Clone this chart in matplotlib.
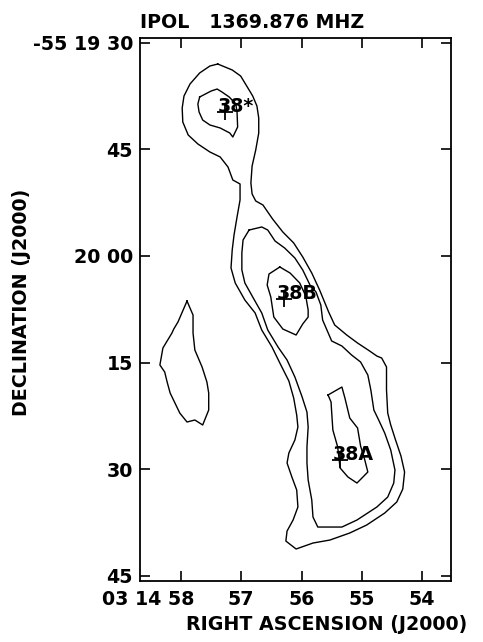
import matplotlib
matplotlib.use("Agg")
import matplotlib.pyplot as plt
import matplotlib.transforms as mtransforms

# RA in seconds of 03h14m, Dec in arcsec relative to -55d20m00s (north positive)
outer_ra = [57.39, 57.15, 57.01, 56.91, 56.81, 56.74, 56.71, 56.71, 56.76, 56.82,
            56.84, 56.82, 56.76, 56.64, 56.48, 56.31, 56.13, 55.98, 55.83, 55.70,
            55.55, 55.45, 55.25, 55.07, 54.87, 54.75, 54.67, 54.59, 54.59, 54.57,
            54.52, 54.44, 54.35, 54.29, 54.32, 54.42, 54.62, 54.92, 55.20, 55.53,
            55.81, 56.09, 56.26, 56.24, 56.14, 56.06, 56.08, 56.16, 56.24, 56.21,
            56.11, 56.06, 56.08, 56.13, 56.21, 56.36, 56.49, 56.66, 56.77, 56.94,
            57.10, 57.17, 57.15, 57.12, 57.07, 57.02, 57.02, 57.14, 57.22, 57.35,
            57.52, 57.72, 57.88, 57.97, 57.98, 57.95, 57.85, 57.69, 57.52]
outer_dec = [27.00, 26.16, 25.31, 23.91, 22.50, 21.09, 19.40, 17.29, 14.90, 12.65,
             10.26, 8.71, 7.73, 7.16, 5.19, 3.36, 1.82, -0.15, -2.41, -4.80,
             -7.89, -9.72, -11.13, -12.26, -13.38, -14.09, -14.37, -15.63, -18.87, -22.11,
             -23.79, -25.90, -28.16, -30.41, -32.80, -34.63, -36.18, -37.87, -38.99, -39.98,
             -40.40, -41.24, -40.12, -38.71, -37.16, -35.33, -32.94, -31.11, -29.14, -27.73,
             -25.90, -24.08, -22.39, -20.00, -17.60, -15.07, -12.82, -10.43, -8.03, -6.21,
             -3.81, -1.70, 0.83, 2.94, 5.47, 7.87, 10.12, 10.68, 12.51, 13.92,
             14.62, 15.75, 17.01, 18.84, 20.81, 22.50, 24.19, 25.74, 26.72]

body_ra = [56.87, 56.66, 56.56, 56.44, 56.28, 56.11, 55.98, 55.86, 55.76, 55.68,
           55.65, 55.50, 55.33, 55.17, 55.02, 54.90, 54.85, 54.80, 54.72, 54.62,
           54.52, 54.45, 54.47, 54.57, 54.75, 55.08, 55.33, 55.73, 55.81, 55.83,
           55.89, 55.91, 55.91, 55.89, 55.91, 55.99, 56.11, 56.24, 56.39, 56.56,
           56.66, 56.81, 56.94, 56.99, 56.99, 56.97]
body_dec = [3.64, 4.07, 3.64, 2.10, 1.11, -0.30, -1.98, -4.09, -5.08, -6.91,
            -9.02, -11.97, -12.68, -13.94, -14.93, -16.76, -18.87, -21.68, -23.09, -24.92,
            -27.31, -30.13, -31.96, -33.93, -35.33, -37.16, -38.15, -38.15, -36.74, -34.35,
            -31.53, -29.14, -26.89, -24.08, -21.97, -19.85, -17.04, -14.65, -12.82, -10.43,
            -8.03, -5.78, -3.81, -1.98, 0.41, 2.24]

b_ra = [56.36, 56.19, 56.03, 55.93, 55.89, 55.89, 55.98, 56.09, 56.31, 56.46,
        56.51, 56.57, 56.54]
b_dec = [-1.56, -2.41, -3.81, -5.64, -7.61, -8.60, -9.58, -11.13, -10.29, -8.60,
         -5.78, -4.09, -2.55]

a_ra = [55.56, 55.33, 55.28, 55.20, 55.07, 55.02, 54.95, 54.90, 55.08, 55.23,
        55.36, 55.40, 55.48, 55.50, 55.51]
a_dec = [-19.57, -18.45, -20.00, -22.81, -24.22, -26.75, -28.72, -30.41, -31.96, -31.11,
         -29.84, -26.89, -24.50, -21.97, -20.56]

star_ra = [57.69, 57.50, 57.40, 57.32, 57.20, 57.09, 57.07, 57.06, 57.14, 57.19,
           57.35, 57.52, 57.64, 57.70, 57.72]
star_dec = [22.36, 23.20, 23.48, 23.06, 22.36, 21.37, 20.25, 18.14, 16.73, 17.29,
            18.00, 18.42, 19.12, 20.25, 21.37]

isl_ra = [57.90, 57.80, 57.80, 57.77, 57.65, 57.57, 57.54, 57.54, 57.64, 57.77,
          57.90, 58.02, 58.10, 58.18, 58.23, 58.27, 58.35, 58.30, 58.15, 58.12, 58.05]
isl_dec = [-6.35, -8.32, -10.85, -13.24, -15.63, -17.74, -19.29, -21.68, -23.79, -23.09,
           -23.37, -22.11, -20.70, -19.29, -17.74, -16.34, -15.35, -12.96, -10.85, -10.29, -9.30]

src_names = ["38*", "38B", "38A"]
src_ra = [57.27, 56.29, 55.36]
src_dec = [20.25, -6.06, -28.72]

xticks = [58, 57, 56, 55, 54]
xticklabels = ["03 14 58", "57", "56", "55", "54"]
yticks = [30, 15, 0, -15, -30, -45]
yticklabels = ["-55 19 30", "45", "20 00", "15", "30", "45"]

fs = 13.7
plt.rcParams['font.family'] = 'DejaVu Sans'
plt.rcParams['font.weight'] = 'bold'

fig = plt.figure(figsize=(4.83, 6.42), dpi=100)
ax = fig.add_axes([140/483, 1 - 580.7/642, 311/483, 543.2/642])

for xs, ys in [(outer_ra, outer_dec), (body_ra, body_dec), (b_ra, b_dec),
               (a_ra, a_dec), (star_ra, star_dec), (isl_ra, isl_dec)]:
    ax.plot(xs + xs[:1], ys + ys[:1], color='black', lw=1.0)

ax.plot(src_ra, src_dec, '+', color='black', ms=11, mew=1.3)
for n, x, y in zip(src_names, src_ra, src_dec):
    ax.annotate(n, (x, y), xytext=(-5, 0), textcoords='offset points',
                ha='left', va='baseline', fontsize=fs, fontweight='bold')

ax.set_xlim(58.68, 53.52)
ax.set_ylim(-45.70, 30.73)
ax.set_xticks(xticks)
ax.set_xticklabels(xticklabels)
ax.set_yticks(yticks)
ax.set_yticklabels(yticklabels)
ax.tick_params(direction='in', length=7.5, width=1.2, top=True, right=True,
               labelsize=fs, colors='black')
ax.tick_params(axis='x', pad=7)
ax.tick_params(axis='y', pad=5)
for s in ax.spines.values():
    s.set_linewidth(1.3)

# first RA label: keep "58" centred under its tick
lab = ax.get_xticklabels()[0]
lab.set_horizontalalignment('right')
lab.set_transform(lab.get_transform() +
                  mtransforms.ScaledTranslation(13/100, 0, fig.dpi_scale_trans))

fig.text(140/483, 1 - 27.7/642, "IPOL   1369.876 MHZ", ha='left', va='baseline',
         fontsize=fs, fontweight='bold')
fig.text(327/483, 1 - 630/642, "RIGHT ASCENSION (J2000)", ha='center', va='baseline',
         fontsize=fs, fontweight='bold')
fig.text(22/483, 1 - 302/642, "DECLINATION (J2000)", rotation=90, ha='center',
         va='center', fontsize=fs, fontweight='bold')

fig.savefig("out.png", dpi=100)
